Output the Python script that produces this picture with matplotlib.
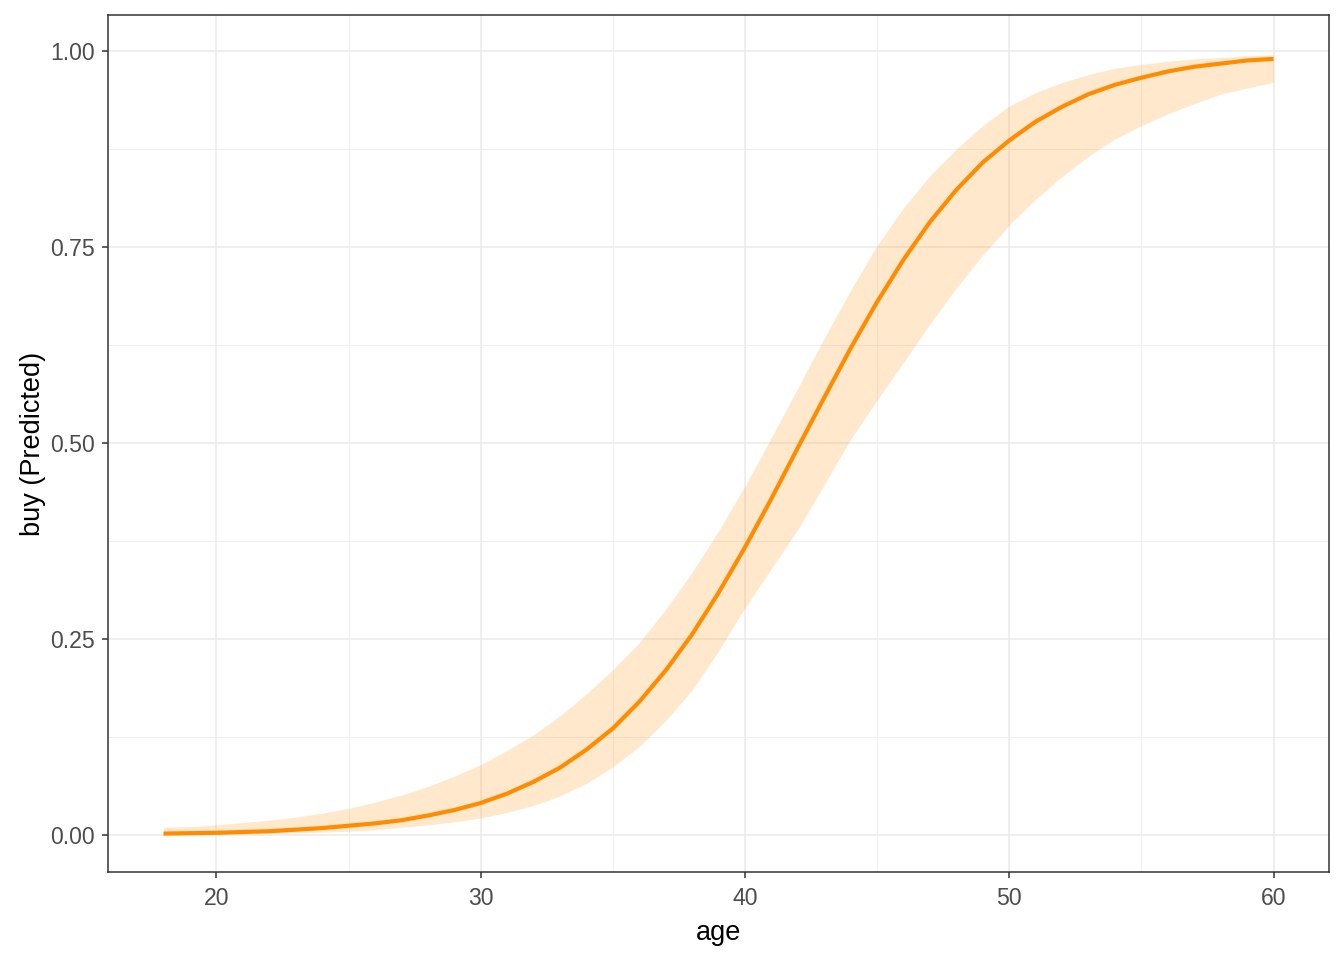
import matplotlib.pyplot as plt
from matplotlib.ticker import MultipleLocator

# predicted probability of "buy" by age, with 95% interval
age = list(range(18, 61))
predicted = [0.002, 0.0025, 0.003, 0.004, 0.005, 0.007, 0.009, 0.012, 0.015, 0.019,
             0.025, 0.032, 0.041, 0.053, 0.068, 0.086, 0.109, 0.136, 0.170, 0.210,
             0.256, 0.309, 0.367, 0.429, 0.494, 0.558, 0.621, 0.680, 0.734, 0.782,
             0.823, 0.858, 0.886, 0.910, 0.929, 0.945, 0.957, 0.966, 0.974, 0.980,
             0.984, 0.988, 0.990]
conf_low = [0.001, 0.001, 0.001, 0.002, 0.002, 0.003, 0.004, 0.005, 0.007, 0.010,
            0.013, 0.017, 0.022, 0.029, 0.038, 0.050, 0.066, 0.087, 0.113, 0.146,
            0.185, 0.235, 0.290, 0.340, 0.390, 0.447, 0.505, 0.555, 0.603, 0.652,
            0.698, 0.740, 0.778, 0.811, 0.840, 0.866, 0.888, 0.905, 0.920, 0.933,
            0.945, 0.953, 0.960]
conf_high = [0.010, 0.011, 0.013, 0.016, 0.019, 0.023, 0.028, 0.034, 0.042, 0.051,
             0.062, 0.075, 0.090, 0.108, 0.128, 0.152, 0.180, 0.211, 0.245, 0.288,
             0.335, 0.388, 0.445, 0.507, 0.570, 0.634, 0.695, 0.752, 0.800, 0.841,
             0.875, 0.905, 0.930, 0.947, 0.960, 0.970, 0.978, 0.983, 0.987, 0.990,
             0.992, 0.994, 0.995]

x_ticks = [20, 30, 40, 50, 60]
y_ticks = [0.00, 0.25, 0.50, 0.75, 1.00]
y_labels = ['0.00', '0.25', '0.50', '0.75', '1.00']

plt.rcParams['font.family'] = ['Liberation Sans', 'DejaVu Sans']

ORANGE = '#FF8C00'
GRID = '#EBEBEB'
DARK = '#333333'

fig = plt.figure(figsize=(13.44, 9.6), dpi=100)
ax = fig.add_axes([108 / 1344, 88 / 960, (1329 - 108) / 1344, (872 - 15) / 960])

ax.fill_between(age, conf_low, conf_high, color=ORANGE, alpha=0.2, linewidth=0, zorder=2)
ax.plot(age, predicted, color=ORANGE, linewidth=3.0, solid_capstyle='butt', zorder=3)

ax.set_xlim(15.9, 62.1)
ax.set_ylim(-0.047, 1.046)

ax.set_xticks(x_ticks)
ax.set_yticks(y_ticks)
ax.set_yticklabels(y_labels)
ax.xaxis.set_minor_locator(MultipleLocator(5))
ax.yaxis.set_minor_locator(MultipleLocator(0.125))

ax.grid(which='major', color=GRID, linewidth=1.1, zorder=0)
ax.grid(which='minor', color=GRID, linewidth=0.55, zorder=0)
ax.set_axisbelow(True)

for s in ax.spines.values():
    s.set_color(DARK)
    s.set_linewidth(1.1)

ax.tick_params(which='major', length=4, width=1.1, color=DARK,
               labelsize=16.6, labelcolor='#4D4D4D')
ax.tick_params(axis='x', which='major', pad=6.5)
ax.tick_params(axis='y', which='major', pad=5.4)
ax.tick_params(which='minor', length=0)

ax.set_xlabel('age', fontsize=19.5, color='black', labelpad=7.5)
ax.set_ylabel('buy (Predicted)', fontsize=19.5, color='black', labelpad=3)

fig.savefig('out.png', dpi=100, facecolor='white')
